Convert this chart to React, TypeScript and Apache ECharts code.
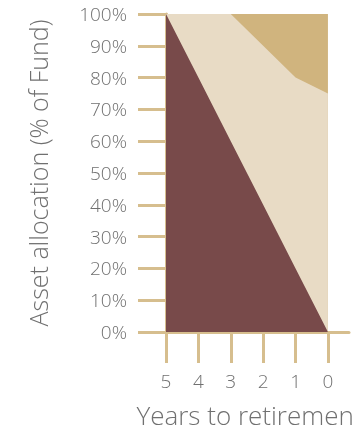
import React, { useEffect, useRef } from "react";
import * as echarts from "echarts";

const years = [5, 4, 3, 2, 1, 0];
const growthAssets = [100, 80, 60, 40, 20, 0];
const defensiveAssets = [0, 20, 40, 50, 60, 75];
const cashAssets = [0, 0, 0, 10, 20, 25];
const yTicks = [0, 10, 20, 30, 40, 50, 60, 70, 80, 90, 100];

const AXIS = "#D6BE8E";
const TEXT = "#707070";
const FONT = "'Open Sans', sans-serif";

export default function App() {
  const ref = useRef<HTMLDivElement>(null);
  useEffect(() => {
    if (!ref.current) return;
    const chart = echarts.init(ref.current, undefined, { renderer: "svg" });
    // cumulative tops, drawn from the top layer down so lower layers cover upper ones
    const layers = [
      { name: "Cash", parts: [growthAssets, defensiveAssets, cashAssets], color: "#D0B47E" },
      { name: "Defensive", parts: [growthAssets, defensiveAssets], color: "#E8DBC5" },
      { name: "Growth", parts: [growthAssets], color: "#784A4A" },
    ];
    const series = layers.map((l) => ({
      name: l.name,
      type: "line",
      data: years.map((y, i) => [y, l.parts.reduce((s, p) => s + p[i], 0)]),
      symbol: "none",
      lineStyle: { width: 0 },
      areaStyle: { color: l.color, opacity: 1, origin: "start" },
      itemStyle: { color: l.color },
      silent: true,
    }));
    chart.setOption({
      animation: false,
      grid: {
        left: 166,
        right: 5,
        top: 14,
        bottom: 99,
        containLabel: false,
        outerBoundsMode: "none",
      },
      xAxis: {
        type: "value",
        inverse: true,
        min: -0.65,
        max: 5,
        name: "Years to retirement",
        nameLocation: "middle",
        nameGap: 70,
        nameTextStyle: {
          fontSize: 26,
          color: TEXT,
          fontFamily: FONT,
          fontWeight: 300,
          padding: [0, 16, 0, 0],
        },
        axisLine: { show: true, onZero: false, lineStyle: { color: AXIS, width: 3 } },
        axisTick: { show: true, length: 31, customValues: years, lineStyle: { color: AXIS, width: 3 } },
        axisLabel: {
          customValues: years,
          margin: 39,
          fontSize: 19,
          color: TEXT,
          fontFamily: FONT,
          fontWeight: 300,
        },
        splitLine: { show: false },
      },
      yAxis: {
        type: "value",
        min: 0,
        max: 100,
        interval: 10,
        name: "Asset allocation (% of Fund)",
        nameLocation: "middle",
        nameGap: 116,
        nameTextStyle: { fontSize: 25, color: TEXT, fontFamily: FONT, fontWeight: 300 },
        axisLine: { show: true, onZero: false, lineStyle: { color: AXIS, width: 3 } },
        axisTick: { show: true, length: 28, lineStyle: { color: AXIS, width: 3 } },
        axisLabel: {
          formatter: (v: number) => (yTicks.includes(v) ? v + "%" : ""),
          margin: 39,
          fontSize: 19,
          color: TEXT,
          fontFamily: FONT,
          fontWeight: 300,
        },
        splitLine: { show: false },
      },
      series,
    });
    return () => chart.dispose();
  }, []);
  return (
    <div
      ref={ref}
      style={{ position: "fixed", left: 0, top: 0, width: 354, height: 431 }}
    />
  );
}
